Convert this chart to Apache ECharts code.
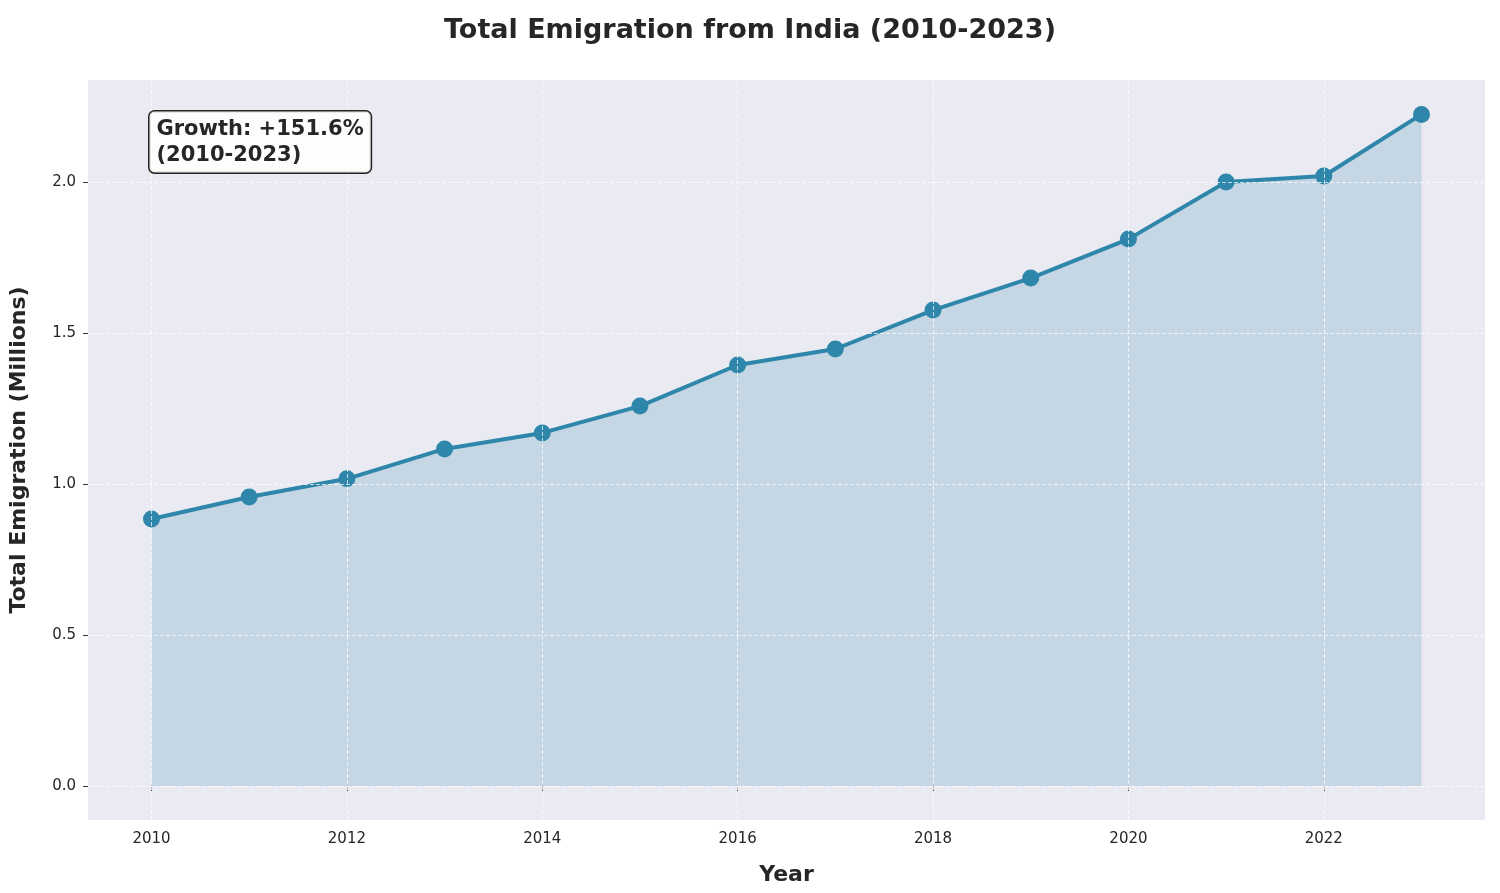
<!DOCTYPE html>
<html><head><meta charset="utf-8">
<script src="https://cdn.jsdelivr.net/npm/echarts@6/dist/echarts.min.js"></script>
<style>html,body{margin:0;padding:0;background:#fff}#c{width:1500px;height:893px}</style>
</head><body><div id="c"></div>
<script>
// data
const years = [2010, 2011, 2012, 2013, 2014, 2015, 2016, 2017, 2018, 2019, 2020, 2021, 2022, 2023];
const emigration = [0.884, 0.957, 1.017, 1.116, 1.169, 1.258, 1.394, 1.447, 1.576, 1.682, 1.811, 2.0, 2.020, 2.224];
const xTicks = [2010, 2012, 2014, 2016, 2018, 2020, 2022];
const yTicks = [0, 0.5, 1.0, 1.5, 2.0];

const growth = ((emigration[emigration.length - 1] / emigration[0] - 1) * 100).toFixed(1);
const font = 'DejaVu Sans';
const chart = echarts.init(document.getElementById('c'));

chart.setOption({
    animation: false,
    textStyle: { fontFamily: font },
    title: { text: 'Total Emigration from India (2010-2023)', left: 'center', top: 12,
        textStyle: { fontSize: 27, fontWeight: 'bold', color: '#262626', fontFamily: font } },
    grid: { left: 85, right: 15, top: 80, bottom: 73, show: true, backgroundColor: '#eaeaf2', borderWidth: 0 },
    xAxis: {
        type: 'value', min: 2009.35, max: 2023.65,
        name: 'Year', nameLocation: 'middle', nameGap: 44,
        nameTextStyle: { fontSize: 22, fontWeight: 'bold', color: '#262626' },
        axisLine: { show: false },
        axisTick: { show: true, customValues: xTicks, length: 5, lineStyle: { color: '#333' } },
        axisLabel: { customValues: xTicks, fontSize: 15, color: '#262626', margin: 12, formatter: v => String(v) },
        splitLine: { show: false }
    },
    yAxis: {
        type: 'value', min: -0.113, max: 2.338,
        name: 'Total Emigration (Millions)', nameLocation: 'middle', nameGap: 58,
        nameTextStyle: { fontSize: 22, fontWeight: 'bold', color: '#262626' },
        axisLine: { show: false },
        axisTick: { show: true, customValues: yTicks, length: 5, lineStyle: { color: '#333' } },
        axisLabel: { customValues: yTicks, fontSize: 15, color: '#262626', margin: 12, formatter: v => v.toFixed(1) },
        splitLine: { show: false }
    },
    series: [
        {
            type: 'line', data: years.map((y, i) => [y, emigration[i]]),
            lineStyle: { color: '#2e86ab', width: 4 },
            itemStyle: { color: '#2e86ab' },
            symbol: 'circle', symbolSize: 17,
            areaStyle: { color: 'rgba(46,134,171,0.28)', origin: 0 },
            z: 3
        },
        {
            // dashed grid lines
            type: 'line', data: [], silent: true,
            markLine: {
                silent: true, symbol: 'none', label: { show: false },
                lineStyle: { color: '#ffffff', type: 'dashed', width: 1, opacity: 0.7 },
                data: xTicks.map(v => ({ xAxis: v })).concat(yTicks.map(v => ({ yAxis: v })))
            },
            z: 1
        }
    ],
    graphic: [{
        type: 'text', left: 148, top: 110, z: 10,
        style: {
            text: 'Growth: +' + growth + '%\n(2010-2023)',
            font: 'bold 21px ' + font, fill: '#262626', lineHeight: 26,
            backgroundColor: 'rgba(255,255,255,0.9)', borderColor: '#222', borderWidth: 1.5,
            borderRadius: 5, padding: [5, 7, 4, 7]
        }
    }]
});
</script></body></html>
